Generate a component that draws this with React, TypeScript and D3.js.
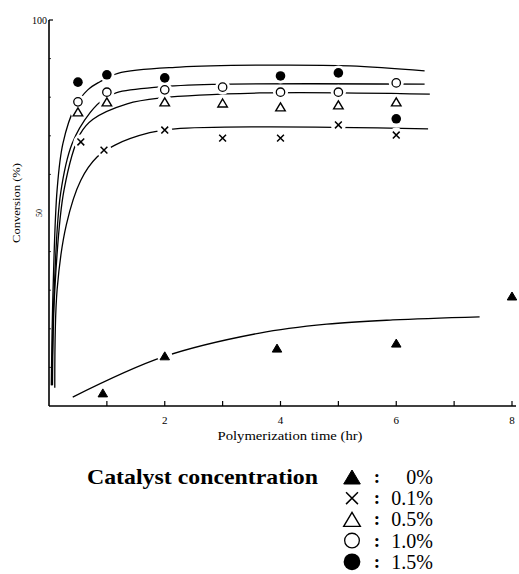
import React from 'react';
import * as d3 from 'd3';

// measured points, conversion (%) vs polymerization time (hr)
const tFilled = [0.5, 1, 2, 4, 5, 6];
const vFilled = [83.9, 85.8, 85.0, 85.5, 86.3, 74.4]; // 1.5%
const tOpen = [0.5, 1, 2, 3, 4, 5, 6];
const vOpen = [78.8, 81.3, 81.9, 82.6, 81.3, 81.3, 83.7]; // 1.0%
const tTri = [0.5, 1, 2, 3, 4, 5, 6];
const vTri = [76.2, 78.8, 78.8, 78.5, 77.5, 78.0, 78.8]; // 0.5%
const tCross = [0.55, 0.95, 2, 3, 4, 5, 6];
const vCross = [68.4, 66.3, 71.5, 69.4, 69.4, 72.8, 70.2]; // 0.1%
const tSolid = [0.93, 2, 3.94, 6, 8];
const vSolid = [3.4, 13.0, 15.0, 16.3, 28.5]; // 0%

// hand-drawn fitted curves as [t, v]
const curve15: [number, number][] = [
  [0.04, 5.4], [0.07, 30], [0.14, 56], [0.24, 68], [0.45, 77.5], [0.67, 81.9],
  [0.88, 84], [1.19, 86.2], [2.26, 87.8], [3.64, 88.3], [5.2, 88.1], [6.49, 86.8],
];
const curve10: [number, number][] = [
  [0.05, 5.4], [0.09, 30], [0.2, 55], [0.4, 68], [0.71, 76], [0.97, 79.8],
  [1.17, 81.2], [1.87, 82.6], [2.82, 83.3], [6.49, 83.4],
];
const curve05: [number, number][] = [
  [0.06, 5.4], [0.1, 30], [0.26, 56], [0.54, 70.5], [0.76, 74.3], [1.35, 78.3],
  [1.92, 79.8], [3.64, 81.1], [6.58, 80.8],
];
const curve01: [number, number][] = [
  [0.1, 4.7], [0.14, 30.1], [0.3, 47], [0.55, 58.5], [0.83, 64.5], [1.14, 67.6],
  [1.74, 70.8], [2.18, 71.8], [3.64, 72.3], [6.55, 71.8],
];
const curve0: [number, number][] = [
  [0.41, 2.3], [1.97, 12.7], [3.64, 18.9], [4.8, 21.2], [5.94, 22.3], [7.44, 23.1],
];

const xTicks = [1, 2, 3, 4, 5, 6, 7, 8];
const xLabels = [2, 4, 6, 8];
const yMinor = [10, 20, 30, 40, 60, 70, 80, 90];

const legendLabels = ['0%', '0.1%', '0.5%', '1.0%', '1.5%'];
const legendKinds = ['solidTri', 'cross', 'tri', 'open', 'filled'];

const W = 519;
const H = 574;
const SERIF = "'Liberation Serif', 'DejaVu Serif', 'Times New Roman', serif";

const Marker = ({ kind, x, y, s = 1 }: { kind: string; x: number; y: number; s?: number }) => {
  if (kind === 'filled') return <circle cx={x} cy={y} r={4.8 * s} fill="#000" />;
  if (kind === 'open') return <circle cx={x} cy={y} r={4.2 * s} fill="#fff" stroke="#000" strokeWidth={1.3} />;
  if (kind === 'tri' || kind === 'solidTri') {
    const h = 8 * s;
    const w = 9.5 * s;
    const p = `M${x},${y - h / 2} L${x + w / 2},${y + h / 2} L${x - w / 2},${y + h / 2} Z`;
    return kind === 'tri'
      ? <path d={p} fill="#fff" stroke="#000" strokeWidth={1.4} />
      : <path d={p} fill="#000" stroke="#000" strokeWidth={1} />;
  }
  const a = 3.4 * s;
  return (
    <path d={`M${x - a},${y - a} L${x + a},${y + a} M${x + a},${y - a} L${x - a},${y + a}`}
      stroke="#000" strokeWidth={1.5} fill="none" />
  );
};

export default function App() {
  const x = d3.scaleLinear().domain([0, 8]).range([49, 512]);
  const y = d3.scaleLinear().domain([0, 100]).range([406, 20]);
  const line = d3.line<[number, number]>()
    .x(d => x(d[0]))
    .y(d => y(d[1]))
    .curve(d3.curveCatmullRom.alpha(0.5));

  const series = [
    { kind: 'filled', t: tFilled, v: vFilled },
    { kind: 'open', t: tOpen, v: vOpen },
    { kind: 'tri', t: tTri, v: vTri },
    { kind: 'cross', t: tCross, v: vCross },
    { kind: 'solidTri', t: tSolid, v: vSolid },
  ];
  const pts = series.flatMap(s => s.t.map((t, i) => ({ kind: s.kind, px: x(t), py: y(s.v[i]) })));

  return (
    <svg width={W} height={H} style={{ position: 'absolute', left: 0, top: 0, background: '#fff' }}>
      <g style={{ fontFamily: SERIF }}>
        {/* axes */}
        <line x1={x(0)} x2={x(0)} y1={y(100)} y2={y(0)} stroke="#000" strokeWidth={1.6} />
        <line x1={x(0)} x2={516} y1={y(0)} y2={y(0)} stroke="#000" strokeWidth={1.6} />
        <line x1={x(0)} x2={x(0) + 4} y1={y(100)} y2={y(100)} stroke="#000" strokeWidth={1.2} />
        {yMinor.map(v => (
          <line key={v} x1={x(0)} x2={x(0) + 2} y1={y(v)} y2={y(v)} stroke="#000" strokeWidth={0.8} />
        ))}
        {xTicks.map(t => (
          <line key={t} x1={x(t)} x2={x(t)} y1={y(0)} y2={y(0) - 5} stroke="#000" strokeWidth={1.2} />
        ))}
        <text x={47} y={24} fontSize={10} textAnchor="end">100</text>
        <text transform={`translate(42,${y(50)}) rotate(-90)`} fontSize={8} textAnchor="middle">50</text>
        {xLabels.map(t => (
          <text key={t} x={x(t)} y={424} fontSize={11} textAnchor="middle">{t}</text>
        ))}
        <text x={290} y={440} fontSize={12} textAnchor="middle" textLength={145} lengthAdjust="spacingAndGlyphs">
          Polymerization time (hr)
        </text>
        <text transform="translate(20,203) rotate(-90)" fontSize={11} textAnchor="middle" textLength={80}
          lengthAdjust="spacingAndGlyphs">Conversion (%)</text>

        {/* fitted curves */}
        {[curve15, curve10, curve05, curve01, curve0].map((c, i) => (
          <path key={i} d={line(c) || ''} fill="none" stroke="#000" strokeWidth={1.3} />
        ))}

        {/* white gaps around the markers */}
        {pts.map((p, i) => (
          <circle key={'h' + i} cx={p.px} cy={p.py} r={7.5} fill="#fff" />
        ))}
        {pts.map((p, i) => (
          <Marker key={'m' + i} kind={p.kind} x={p.px} y={p.py} />
        ))}

        {/* legend */}
        <text x={87} y={484} fontSize={21} fontWeight="bold" textLength={231} lengthAdjust="spacingAndGlyphs">
          Catalyst concentration
        </text>
        {legendLabels.map((lab, i) => {
          const cy = 477 + i * 21.2;
          return (
            <g key={lab}>
              <Marker kind={legendKinds[i]} x={352} y={cy} s={1.75} />
              <text x={377} y={cy + 6} fontSize={19} fontWeight="bold" textAnchor="middle">:</text>
              <text x={433} y={cy + 7} fontSize={20} textAnchor="end">{lab}</text>
            </g>
          );
        })}
      </g>
    </svg>
  );
}
